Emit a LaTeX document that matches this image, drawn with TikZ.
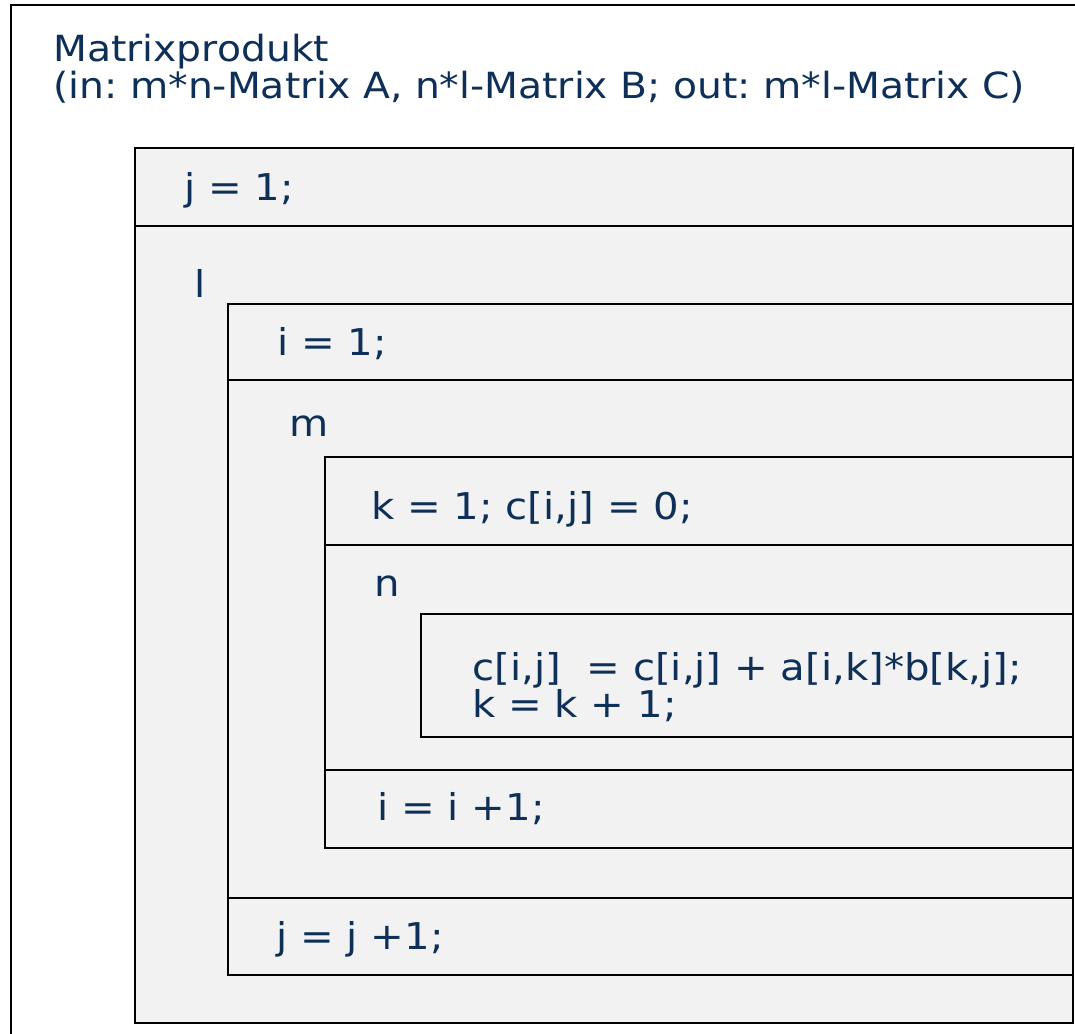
\documentclass[tikz,border=0pt]{standalone}
\usepackage{fontspec}
\setmainfont{DejaVu Sans}[FakeStretch=1.09]
\frenchspacing
\definecolor{nsblue}{HTML}{0E2F57}
\definecolor{nsgray}{HTML}{F2F2F2}
\tikzset{
  nsbox/.style={draw=black,fill=nsgray,line width=1.1pt},
  nsline/.style={draw=black,line width=1.1pt},
  nstext/.style={anchor=base west,inner sep=0pt,text=nsblue,font=\fontsize{21}{21}\selectfont},
  nstitle/.style={anchor=base west,inner sep=0pt,text=nsblue,align=left,font=\fontsize{20.5}{21.5}\selectfont}
}
\begin{document}
\begin{tikzpicture}[x=0.02cm,y=-0.02cm]
\useasboundingbox (0,0) rectangle (1075,1034);
\clip (0,0) rectangle (1075,1034);
\fill[white] (0,0) rectangle (1075,1034);
\draw[nsline] (11,5) rectangle (1100,1060);
\node[nstitle] (title) at (53,99) {Matrixprodukt\\(in: m*n-Matrix A, n*l-Matrix B; out: m*l-Matrix C)};
% outer sequence: j = 1; loop over l
\draw[nsbox] (135,148) rectangle (1073,1023);
\draw[nsline] (135,226) -- (1073,226);
\node[nstext] (jinit) at (184,200) {j = 1;};
\node[nstext] (lloop) at (194,297) {l};
% loop over m
\draw[nsbox] (228,304) rectangle (1073,975);
\draw[nsline] (228,380) -- (1073,380);
\draw[nsline] (228,898) -- (1073,898);
\node[nstext] (iinit) at (277,355) {i = 1;};
\node[nstext] (mloop) at (289,436) {m};
\node[nstext] (jinc) at (276,949) {j = j +1;};
% loop over n
\draw[nsbox] (325,457) rectangle (1073,848);
\draw[nsline] (325,545) -- (1073,545);
\draw[nsline] (325,770) -- (1073,770);
\node[nstext] (kinit) at (371,519) {k = 1; c[i,j] = 0;};
\node[nstext] (nloop) at (374,596) {n};
\node[nstext] (iinc) at (377,820) {i = i +1;};
% innermost block
\draw[nsbox] (421,614) rectangle (1073,737);
\node[nstext,align=left,font=\fontsize{21}{21}\selectfont] (body) at (472,717)
  {c[i,j]\ \ = c[i,j] + a[i,k]*b[k,j];\\k = k + 1;};
\end{tikzpicture}
\end{document}
